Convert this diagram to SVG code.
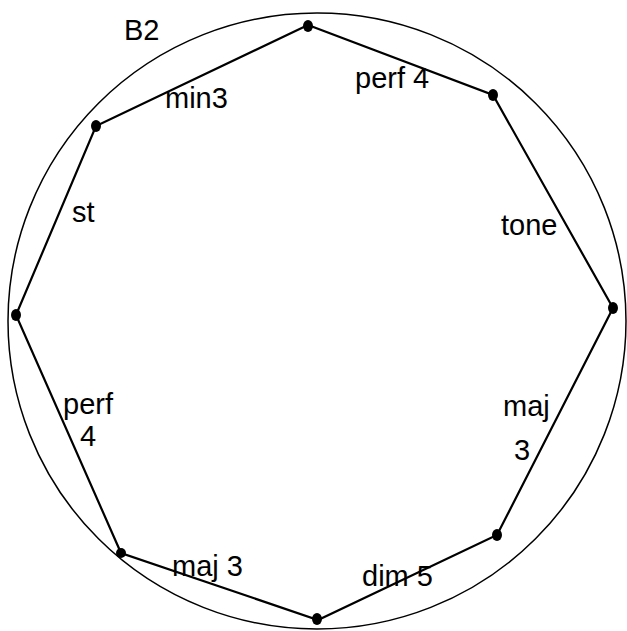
<svg xmlns="http://www.w3.org/2000/svg" width="627" height="631" viewBox="0 0 627 631">
<style>
.rim{fill:none;stroke:#000;stroke-width:1.5}
.edge{fill:none;stroke:#000;stroke-width:2.2;stroke-linecap:round}
.dot{fill:#000}
text{font-family:"Liberation Sans","DejaVu Sans",sans-serif;font-size:29px;fill:#000}
</style>
<rect width="627" height="631" fill="#fff"/>
<ellipse class="rim" cx="317" cy="321" rx="309" ry="308"/>
<text x="124" y="40">B2</text>
<g id="connectors">
<polyline class="edge" points="308,25 493,95 613,308 497,535 318,620 121,553 16,315 96,126 308,25"/>
</g>
<g id="n1"><ellipse class="dot" cx="308" cy="26" rx="5" ry="6"/></g>
<g id="n2"><ellipse class="dot" cx="493" cy="95" rx="5" ry="6"/></g>
<g id="n3"><ellipse class="dot" cx="613" cy="308" rx="5" ry="6"/></g>
<g id="n4"><ellipse class="dot" cx="497" cy="535" rx="5" ry="6"/></g>
<g id="n5"><ellipse class="dot" cx="317" cy="619" rx="5" ry="6"/></g>
<g id="n6"><ellipse class="dot" cx="121" cy="553" rx="5" ry="5"/></g>
<g id="n7"><ellipse class="dot" cx="16" cy="315" rx="5" ry="6"/></g>
<g id="n8"><ellipse class="dot" cx="96" cy="126" rx="5" ry="6"/></g>
<g id="labels">
<text x="165" y="108">min3</text>
<text x="355" y="88">perf 4</text>
<text x="72" y="222">st</text>
<text x="501" y="235">tone</text>
<text x="63" y="414">perf</text>
<text x="80" y="446">4</text>
<text x="503" y="416">maj</text>
<text x="514" y="460">3</text>
<text x="172" y="576">maj 3</text>
<text x="362" y="586">dim 5</text>
</g>
</svg>
